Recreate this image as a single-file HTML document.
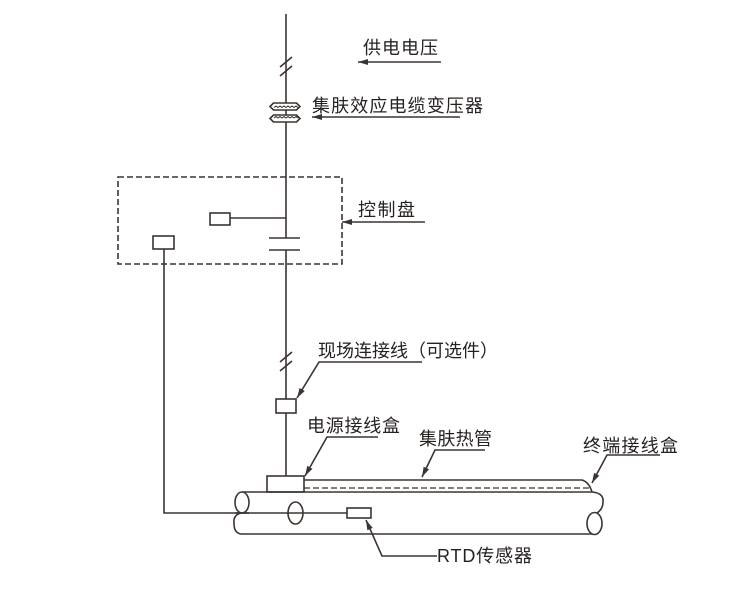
<!DOCTYPE html>
<html><head><meta charset="utf-8"><style>
html,body{margin:0;padding:0;background:#fff;}
svg{display:block;}
text{font-family:"Liberation Sans","Noto Sans CJK SC",sans-serif;font-size:18px;fill:#262220;}
</style></head><body>
<svg width="730" height="593" viewBox="0 0 730 593" xmlns="http://www.w3.org/2000/svg">
<defs>
<marker id="ah" viewBox="0 0 10 6" refX="10" refY="3" markerWidth="10" markerHeight="6" markerUnits="userSpaceOnUse" orient="auto">
<path d="M0,0 L10,3 L0,6 z" fill="#3b3431"/>
</marker>
</defs>
<g stroke="#3b3431" stroke-width="1.6" fill="none">
<!-- main vertical line -->
<line x1="286" y1="14" x2="286" y2="238"/>
<line x1="286" y1="250" x2="286" y2="399"/>
<line x1="286" y1="413" x2="286" y2="476"/>
<!-- break marks -->
<line x1="280" y1="67" x2="292" y2="57"/>
<line x1="280" y1="76" x2="292" y2="66"/>
<line x1="280" y1="362" x2="292" y2="352"/>
<line x1="280" y1="371" x2="292" y2="361"/>
<!-- transformer -->
<path d="M270,106.5 L273.5,103 L296.5,103 L300,106.5 L296.5,110 L273.5,110 Z" fill="#fff"/>
<path d="M274,107.5 l2,-1.5 l2,1.5 l2,-1.5 l2,1.5 l2,-1.5 l2,1.5 l2,-1.5 l2,1.5 l2,-1.5 l2,1.5 l2,-1.5 l2,1.5" stroke-width="1"/>
<path d="M270,118.5 L273.5,115 L296.5,115 L300,118.5 L296.5,122 L273.5,122 Z" fill="#fff"/>
<path d="M274,118 l2,-1.5 l2,1.5 l2,-1.5 l2,1.5 l2,-1.5 l2,1.5 l2,-1.5 l2,1.5 l2,-1.5 l2,1.5 l2,-1.5 l2,1.5" stroke-width="1"/>
<!-- control box -->
<rect x="118" y="177" width="224" height="87" stroke-dasharray="6,3"/>
<rect x="210" y="213" width="20" height="12"/>
<line x1="230" y1="218" x2="286" y2="218"/>
<line x1="269" y1="238" x2="300" y2="238"/>
<line x1="269" y1="250" x2="300" y2="250"/>
<rect x="153" y="236" width="21" height="13"/>
<polyline points="164,249 164,513 347,513"/>
<!-- field box -->
<rect x="276" y="399" width="20" height="14"/>
<!-- junction box -->
<rect x="267" y="476" width="37" height="16"/>
<!-- heat tube -->
<path d="M304,480 L582,480 Q589,482 592,492"/>
<line x1="304" y1="488" x2="590" y2="488" stroke-dasharray="6,3" stroke-width="1.3"/>
<!-- pipe -->
<path d="M242,492 L592,492 Q604,493 603,502 Q603,509 597,513"/>
<ellipse cx="242" cy="502.5" rx="7" ry="10.5" fill="#fff"/>
<path d="M241,513 Q233,515 234,523.5 Q234,533 241,534 L594,534"/>
<ellipse cx="594.5" cy="523.5" rx="7.5" ry="11" fill="#fff"/>
<line x1="235" y1="513" x2="249" y2="513"/>
<ellipse cx="295.5" cy="513" rx="7.5" ry="11"/>
<rect x="347" y="508" width="24" height="10" fill="#fff"/>
<!-- arrows -->
<line x1="441" y1="62" x2="358" y2="62" marker-end="url(#ah)"/>
<line x1="460" y1="117" x2="312" y2="117" marker-end="url(#ah)"/>
<line x1="425" y1="222" x2="342" y2="222" marker-end="url(#ah)"/>
<polyline points="422,362 319,362 297,398" marker-end="url(#ah)"/>
<polyline points="378,437 327,437 305,476" marker-end="url(#ah)"/>
<polyline points="485,450 435,450 422,477" marker-end="url(#ah)"/>
<polyline points="660,455 607,455 592,483" marker-end="url(#ah)"/>
<polyline points="437,556 382,556 366,520" marker-end="url(#ah)"/>
</g>
<text x="363" y="54" textLength="75" lengthAdjust="spacing">供电电压</text>
<text x="312" y="112" textLength="171" lengthAdjust="spacing">集肤效应电缆变压器</text>
<text x="358" y="216" textLength="57" lengthAdjust="spacing">控制盘</text>
<text x="318" y="357" textLength="180" lengthAdjust="spacing">现场连接线（可选件）</text>
<text x="307" y="432" textLength="93" lengthAdjust="spacing">电源接线盒</text>
<text x="419" y="445" textLength="73" lengthAdjust="spacing">集肤热管</text>
<text x="583" y="452" textLength="95" lengthAdjust="spacing">终端接线盒</text>
<text x="437" y="562" textLength="95" lengthAdjust="spacing">RTD传感器</text>
</svg>
</body></html>
